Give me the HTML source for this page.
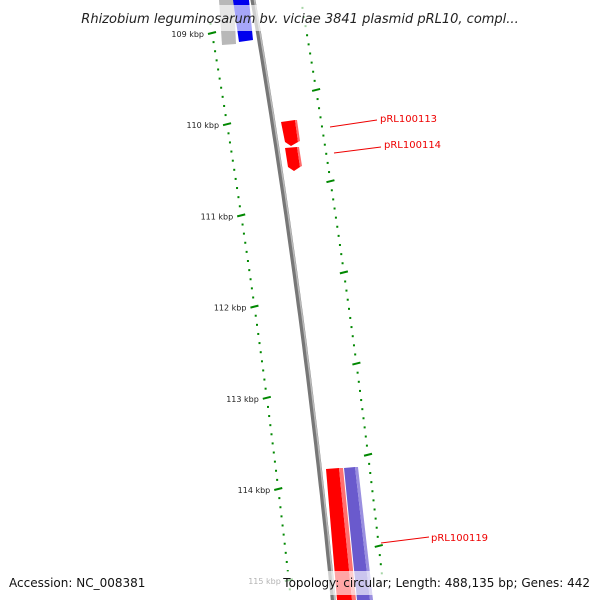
<!DOCTYPE html>
<html><head><meta charset="utf-8"><style>
html,body{margin:0;padding:0;background:#fff;}
svg{display:block;font-family:"DejaVu Sans","Liberation Sans",sans-serif;}
</style></head><body>
<svg width="600" height="600" viewBox="0 0 600 600">
<g id="ticks"></g>
<path id="backbone" fill="none" stroke="#777" stroke-width="5"/>
<path id="backbone2" fill="none" stroke="#bbb" stroke-width="1.5"/>
<g>
<polygon points="219,0 234,0 236,44 222,45" fill="#b8b8b8"/>
<polygon points="233,0 249,0 253,40 239,42" fill="#0000ee"/>
<polygon points="281,122 295,120 298,142 291,146 285,142" fill="#f00"/>
<polygon points="295,120 297,120 300,141 298,142" fill="#ff6a6a"/>
<polygon points="285,148 297,147 300,167 294,171 288,167" fill="#f00"/>
<polygon points="297,147 299,147 302,166 300,167" fill="#ff6a6a"/>
<polygon points="326,469 339,468 352,600 337,600" fill="#f00"/>
<polygon points="339,468 343,468 356,600 352,600" fill="#ff7070"/>
<polygon points="344,468 355,467 370,600 357,600" fill="#6a5acd"/>
<polygon points="355,467 358,467 373,600 370,600" fill="#9a8fe0"/>
</g>
<g font-size="10" fill="#e00">
<line x1="330" y1="127" x2="377" y2="120" stroke="#e00" stroke-width="1"/>
<text x="380" y="122">pRL100113</text>
<line x1="334" y1="153" x2="381" y2="147" stroke="#e00" stroke-width="1"/>
<text x="384" y="148">pRL100114</text>
<line x1="381" y1="543" x2="429" y2="537" stroke="#e00" stroke-width="1"/>
<text x="431" y="541">pRL100119</text>
</g>
<rect x="0" y="5" width="600" height="26" fill="#fff" fill-opacity="0.65"/>
<text x="300" y="23" text-anchor="middle" font-size="13" font-style="italic" fill="#222">Rhizobium leguminosarum bv. viciae 3841 plasmid pRL10, compl...</text>
<rect x="0" y="571" width="600" height="24" fill="#fff" fill-opacity="0.65"/>
<text x="9" y="587" font-size="12" fill="#111">Accession: NC_008381</text>
<text x="590" y="587" text-anchor="end" font-size="12" fill="#111">Topology: circular; Length: 488,135 bp; Genes: 442</text>
</svg>
<script>
const majorKbp=[109,110,111,112,113,114,115];
const majorLabels=["109 kbp","110 kbp","111 kbp","112 kbp","113 kbp","114 kbp","115 kbp"];
function yOf(k){return 33+(k-109)*91.2;}
function xOf(k){const t=k-109;return 212+15.5*t-0.45*t*t;}
const NS="http://www.w3.org/2000/svg";
const g=document.getElementById('ticks');
function ln(x1,y1,x2,y2,w,name){const l=document.createElementNS(NS,'line');
l.setAttribute('x1',x1);l.setAttribute('y1',y1);l.setAttribute('x2',x2);l.setAttribute('y2',y2);
l.setAttribute('stroke','#080');l.setAttribute('stroke-width',w);


g.appendChild(l);}
for(let i=0;i<=62;i++){const k=108.9+i*0.1;const x=xOf(k),y=yOf(k);
 if(y<-5||y>605)continue;
 const major=Math.abs(k-Math.round(k))<0.01;
 if(major)ln(x-4,y+1,x+4,y-1,2,'major-tick');else ln(x-1,y,x+1,y,2,'minor-tick');
 // outer ring ticks
 const ko=k, xo=xOf(ko)+92, yo=yOf(ko)-16;
 const half=Math.abs((k*10)%10-8)<0.01;
 if(yo>-5&&yo<605){ if(half)ln(xo-4,yo+1,xo+4,yo-1,2,'outer-major-tick');else ln(xo-1,yo,xo+1,yo,2,'outer-minor-tick');}
}
majorKbp.forEach((k,i)=>{const t=document.createElementNS(NS,'text');
t.setAttribute('x',xOf(k)-8);t.setAttribute('y',yOf(k)+4);t.setAttribute('text-anchor','end');
t.setAttribute('font-size','8');t.setAttribute('fill','#222');


t.textContent=majorLabels[i];g.appendChild(t);});
let d='';for(let y=-5;y<=605;y+=10){const x=253+0.17*y-0.0000604*y*y;d+=(d?'L':'M')+x.toFixed(1)+','+y;}
document.getElementById('backbone').setAttribute('d',d);
let d2='';for(let y=-5;y<=605;y+=10){const x=254.5+0.17*y-0.0000604*y*y;d2+=(d2?'L':'M')+x.toFixed(1)+','+y;}
document.getElementById('backbone2').setAttribute('d',d2);
</script>
</body></html>
